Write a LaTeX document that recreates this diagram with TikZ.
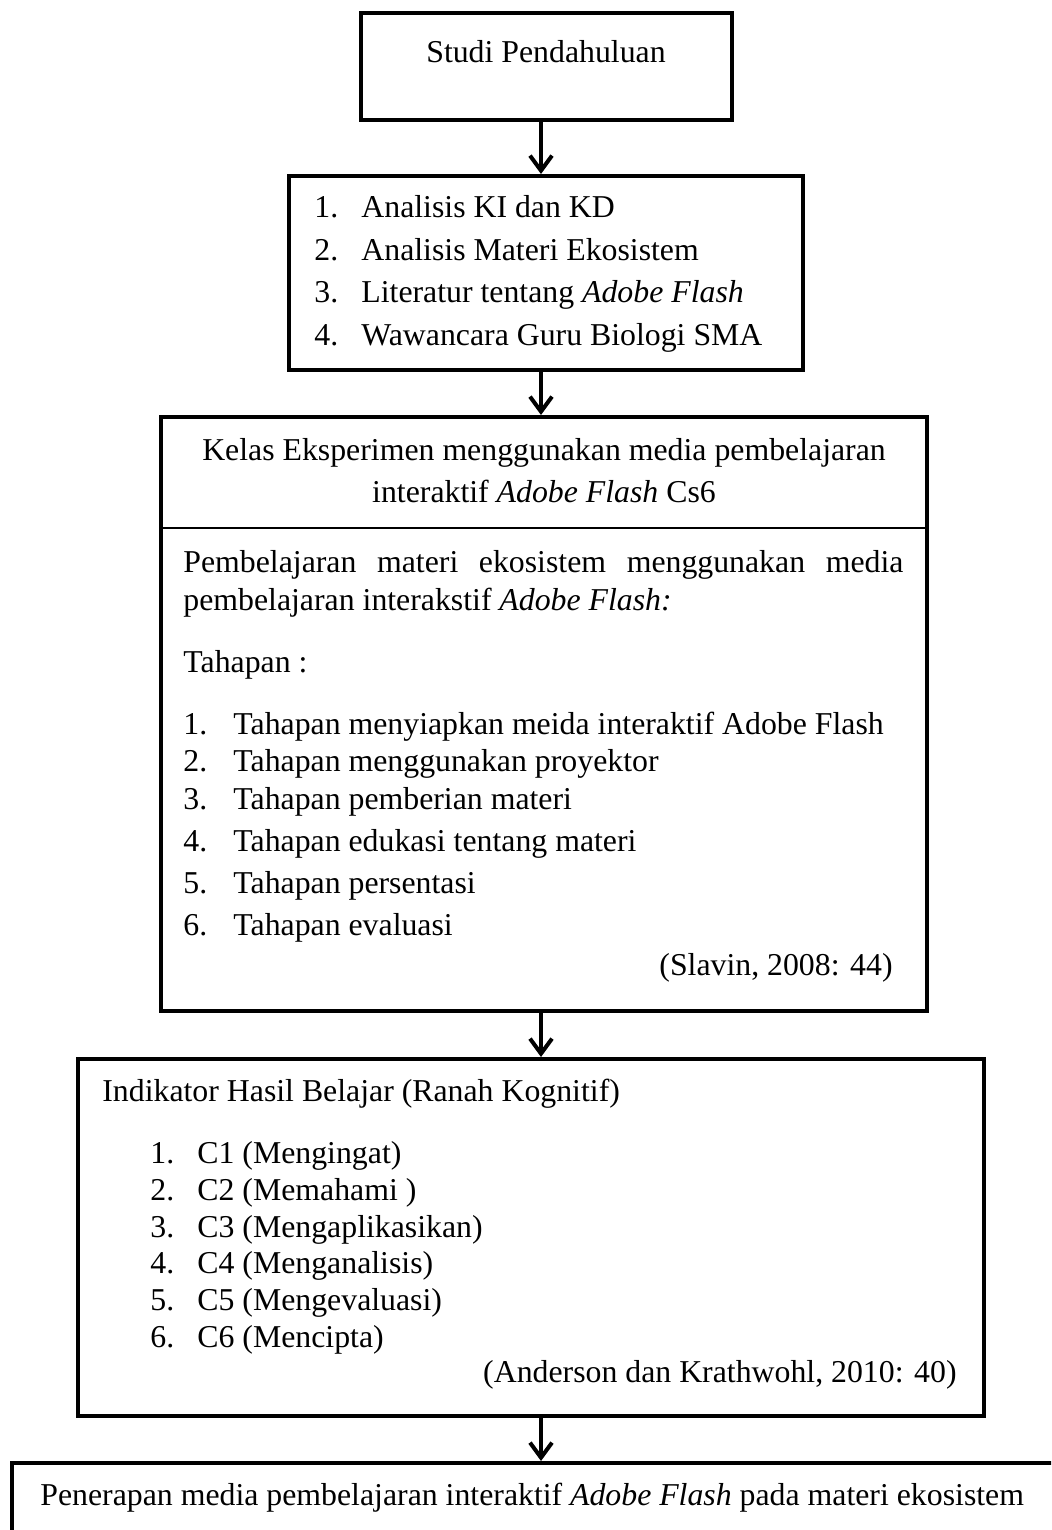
\documentclass[tikz,border=0pt]{standalone}
\usepackage{fontspec}
\setmainfont{Liberation Serif}
\usetikzlibrary{arrows.meta,fit}
\begin{document}
\begin{tikzpicture}[x=0.5pt,y=-0.5pt,
  box/.style={draw, line width=2pt, inner sep=0pt},
  txt/.style={inner sep=0pt, anchor=base west, font=\fontsize{15.9}{19}\selectfont},
  ctxt/.style={txt, anchor=base},
  rtxt/.style={txt, anchor=base east},
  arr/.style={line width=2pt, -{Straight Barb[length=7.5pt,width=11pt]}},
  divider/.style={line width=0.8pt}]
\useasboundingbox (0,0) rectangle (1051,1530);
\clip (0,0) rectangle (1051,1530);
\coordinate (ax) at (541,0);

% Box 1
\node[box, fit={(361,13) (732,120)}] (b1) {};
\node[ctxt] (t1) at (546,63) {Studi Pendahuluan};

% Box 2
\node[box, fit={(289,176) (803,370)}] (b2) {};
\node[txt] (n21) at (314,218) {1.};
\node[txt] (t21) at (361,218) {Analisis KI dan KD};
\node[txt] (n22) at (314,260) {2.};
\node[txt] (t22) at (361,260) {Analisis Materi Ekosistem};
\node[txt] (n23) at (314,302) {3.};
\node[txt] (t23) at (361,302) {Literatur tentang \textit{Adobe Flash}};
\node[txt] (n24) at (314,345) {4.};
\node[txt] (t24) at (361,345) {Wawancara Guru Biologi SMA};

% Box 3
\node[box, fit={(161,417) (927,1011)}] (b3) {};
\draw[divider] (b3.west |- 0,528) coordinate (d1) -- (b3.east |- d1);
\node[ctxt] (h31) at (544,460) {Kelas Eksperimen menggunakan media pembelajaran};
\node[ctxt] (h32) at (544,502) {interaktif \textit{Adobe Flash} Cs6};
\node[txt] (p31) at (183,572) {\hbox to 360pt{Pembelajaran\hfill materi\hfill ekosistem\hfill menggunakan\hfill media}};
\node[txt] (p32) at (183,610) {pembelajaran interakstif \textit{Adobe Flash:}};
\node[txt] (p33) at (183,672) {Tahapan :};
\node[txt] (n31) at (183,734) {1.};
\node[txt] (t31) at (233,734) {Tahapan menyiapkan meida interaktif Adobe Flash};
\node[txt] (n32) at (183,771) {2.};
\node[txt] (t32) at (233,771) {Tahapan menggunakan proyektor};
\node[txt] (n33) at (183,809) {3.};
\node[txt] (t33) at (233,809) {Tahapan pemberian materi};
\node[txt] (n34) at (183,851) {4.};
\node[txt] (t34) at (233,851) {Tahapan edukasi tentang materi};
\node[txt] (n35) at (183,893) {5.};
\node[txt] (t35) at (233,893) {Tahapan persentasi};
\node[txt] (n36) at (183,935) {6.};
\node[txt] (t36) at (233,935) {Tahapan evaluasi};
\node[rtxt] (r3) at (893,975) {(Slavin, 2008: 44)};

% Box 4
\node[box, fit={(78,1059) (984,1416)}] (b4) {};
\node[txt] (h4) at (102,1101) {Indikator Hasil Belajar (Ranah Kognitif)};
\node[txt] (n41) at (150,1163) {1.};
\node[txt] (t41) at (197,1163) {C1 (Mengingat)};
\node[txt] (n42) at (150,1200) {2.};
\node[txt] (t42) at (197,1200) {C2 (Memahami )};
\node[txt] (n43) at (150,1237) {3.};
\node[txt] (t43) at (197,1237) {C3 (Mengaplikasikan)};
\node[txt] (n44) at (150,1273) {4.};
\node[txt] (t44) at (197,1273) {C4 (Menganalisis)};
\node[txt] (n45) at (150,1310) {5.};
\node[txt] (t45) at (197,1310) {C5 (Mengevaluasi)};
\node[txt] (n46) at (150,1347) {6.};
\node[txt] (t46) at (197,1347) {C6 (Mencipta)};
\node[rtxt] (r4) at (957,1382) {(Anderson dan Krathwohl, 2010: 40)};

% Box 5 (cut off by the page edge)
\node[box, fit={(12,1463) (1070,1560)}] (b5) {};
\node[txt] (t5) at (40,1505) {Penerapan media pembelajaran interaktif \textit{Adobe Flash} pada materi ekosistem};

% Arrows
\draw[arr] (b1.south -| ax) -- (b2.north -| ax);
\draw[arr] (b2.south -| ax) -- (b3.north -| ax);
\draw[arr] (b3.south -| ax) -- (b4.north -| ax);
\draw[arr] (b4.south -| ax) -- (b5.north -| ax);
\end{tikzpicture}
\end{document}
